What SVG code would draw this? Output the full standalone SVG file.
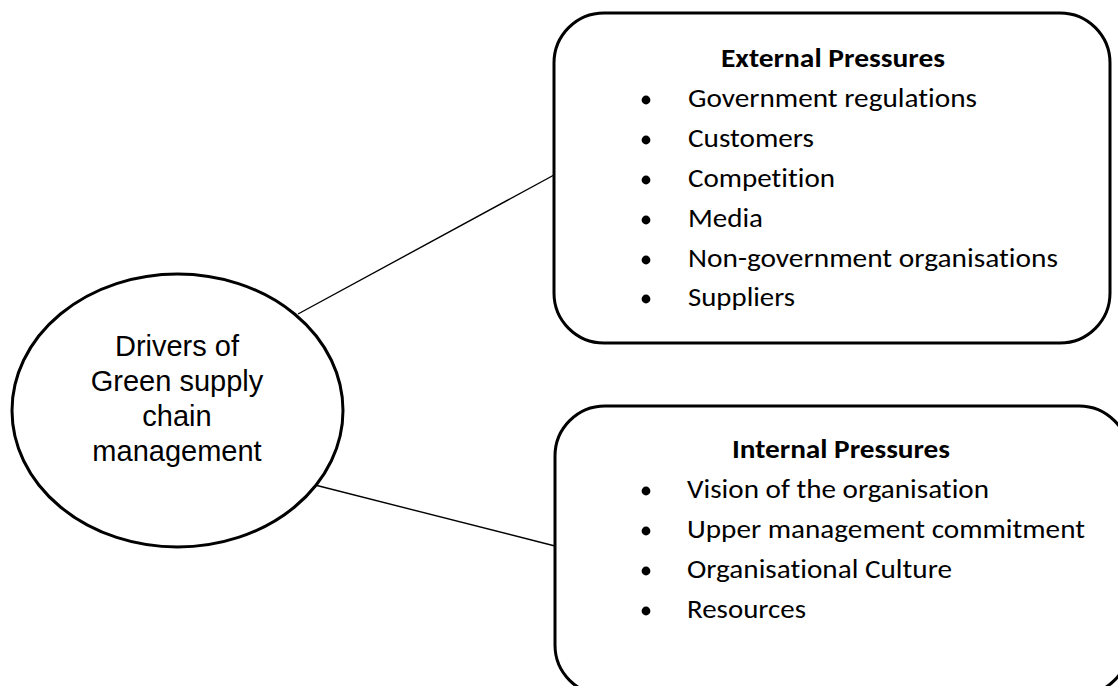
<svg xmlns="http://www.w3.org/2000/svg" width="1118" height="686" viewBox="0 0 1118 686">
  <style>
    .shape { fill: #ffffff; stroke: #000000; stroke-width: 3; }
    .link { stroke: #000000; stroke-width: 1.4; fill: none; }
    .hub { font-family: "Liberation Sans", Arial, sans-serif; font-size: 29px; fill: #000000; text-anchor: middle; }
    .head { font-family: Carlito, Calibri, Lato, "Open Sans", sans-serif; font-size: 27px; font-weight: bold; fill: #000000; font-variant-ligatures: none; }
    .item { font-family: Carlito, Calibri, Lato, "Open Sans", sans-serif; font-size: 27px; fill: #000000; font-variant-ligatures: none; }
    .dot { fill: #000000; }
  </style>
  <rect width="1118" height="686" fill="#ffffff"/>

  <!-- connectors from the central ellipse to both boxes -->
  <g id="connectors">
    <line class="link" x1="298" y1="314" x2="554" y2="175"/>
    <line class="link" x1="315" y1="485" x2="555" y2="546"/>
  </g>

  <!-- central topic -->
  <g id="drivers">
    <ellipse class="shape" cx="177.5" cy="410.5" rx="165.5" ry="136.5"/>
    <text class="hub" x="177" y="356">Drivers of</text>
    <text class="hub" x="177" y="391">Green supply</text>
    <text class="hub" x="177" y="426">chain</text>
    <text class="hub" x="177" y="461">management</text>
  </g>

  <!-- external pressures box -->
  <g id="external">
    <rect class="shape" x="554" y="13" width="556" height="330" rx="50" ry="50"/>
    <text class="head" x="721" y="67" textLength="224" lengthAdjust="spacingAndGlyphs">External Pressures</text>
    <circle class="dot" cx="646" cy="100" r="4.4"/>
    <text class="item" x="688" y="107" textLength="289" lengthAdjust="spacingAndGlyphs">Government regulations</text>
    <circle class="dot" cx="646" cy="140" r="4.4"/>
    <text class="item" x="688" y="147" textLength="126" lengthAdjust="spacingAndGlyphs">Customers</text>
    <circle class="dot" cx="646" cy="180" r="4.4"/>
    <text class="item" x="688" y="187" textLength="147" lengthAdjust="spacingAndGlyphs">Competition</text>
    <circle class="dot" cx="646" cy="220" r="4.4"/>
    <text class="item" x="688" y="227" textLength="75" lengthAdjust="spacingAndGlyphs">Media</text>
    <circle class="dot" cx="646" cy="260" r="4.4"/>
    <text class="item" x="688" y="267" textLength="370" lengthAdjust="spacingAndGlyphs">Non-government organisations</text>
    <circle class="dot" cx="646" cy="299" r="4.4"/>
    <text class="item" x="688" y="306" textLength="107" lengthAdjust="spacingAndGlyphs">Suppliers</text>
  </g>

  <!-- internal pressures box -->
  <g id="internal">
    <rect class="shape" x="555" y="406" width="574" height="289" rx="50" ry="50"/>
    <text class="head" x="732" y="458" textLength="218" lengthAdjust="spacingAndGlyphs">Internal Pressures</text>
    <circle class="dot" cx="646" cy="491" r="4.4"/>
    <text class="item" x="687" y="498" textLength="302" lengthAdjust="spacingAndGlyphs">Vision of the organisation</text>
    <circle class="dot" cx="646" cy="531" r="4.4"/>
    <text class="item" x="687" y="538" textLength="398" lengthAdjust="spacingAndGlyphs">Upper management commitment</text>
    <circle class="dot" cx="646" cy="571" r="4.4"/>
    <text class="item" x="687" y="578" textLength="265" lengthAdjust="spacingAndGlyphs">Organisational Culture</text>
    <circle class="dot" cx="646" cy="611" r="4.4"/>
    <text class="item" x="687" y="618" textLength="119" lengthAdjust="spacingAndGlyphs">Resources</text>
  </g>
</svg>
